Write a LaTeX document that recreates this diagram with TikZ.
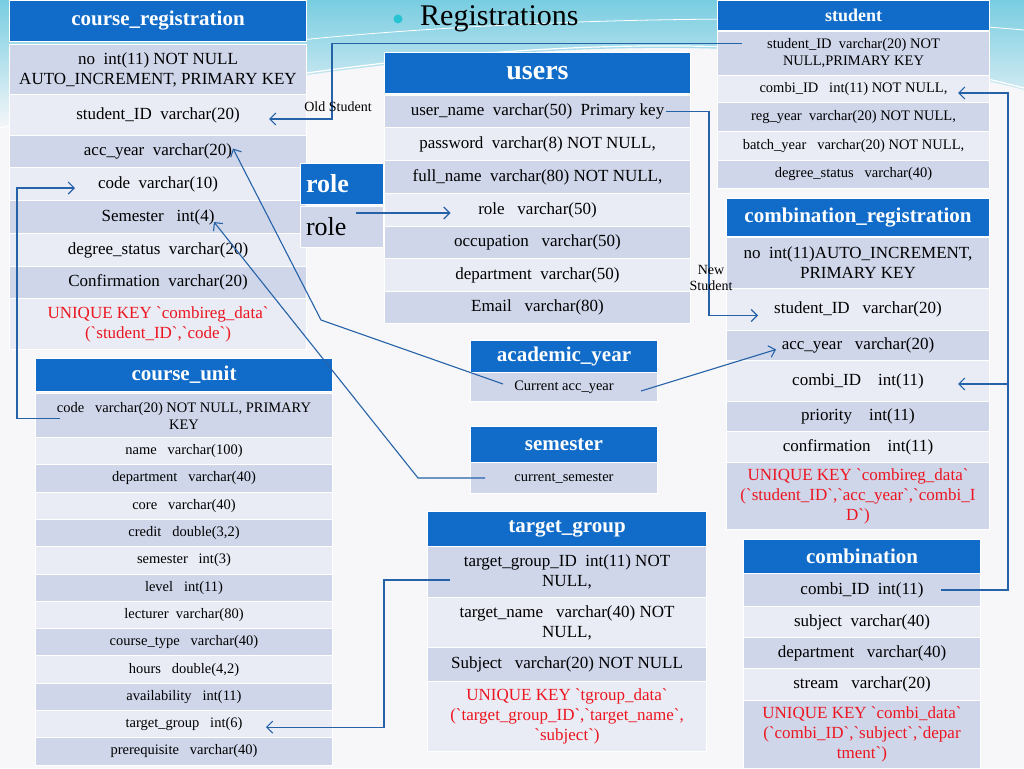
\documentclass[tikz,border=0pt]{standalone}
\usepackage{fontspec}
\setmainfont{Liberation Serif}
\usepackage{xcolor}
\usepackage{tikz}
\usetikzlibrary{arrows.meta}

\definecolor{hdrblue}{RGB}{16,108,200}
\definecolor{rowdark}{RGB}{207,214,234}
\definecolor{rowlight}{RGB}{233,236,245}
\definecolor{keyred}{RGB}{236,22,32}
\definecolor{linkblue}{RGB}{38,98,168}
\definecolor{swoosh}{RGB}{120,205,225}
\definecolor{bgray}{RGB}{247,247,249}
\definecolor{dotcyan}{RGB}{40,195,210}
\newcommand{\btick}{\textasciigrave}

\begin{document}
\begin{tikzpicture}[x=1pt,y=-1pt,
	>={Straight Barb[length=6pt,width=12pt]},
	tbl/.style={anchor=north west, inner sep=1pt, align=center, draw=white, line width=1pt},
	hdr/.style={tbl, fill=hdrblue, text=white, font=\bfseries\fontsize{21}{23}\selectfont},
	rowa/.style={tbl, fill=rowdark},
	rowb/.style={tbl, fill=rowlight},
	key/.style={text=keyred},
	big/.style={font=\fontsize{17}{20}\selectfont},
	small/.style={font=\fontsize{14.5}{17}\selectfont},
	link/.style={draw=linkblue, line width=1.1pt},
	lbl/.style={font=\fontsize{14}{16}\selectfont, align=center, inner sep=0pt}]

	\useasboundingbox (0,0) rectangle (1024,768);
	\fill[bgray] (0,0) rectangle (1024,768);
	\shade[top color=swoosh, bottom color=bgray] (0,0) -- (1024,0) -- (1024,90) .. controls (760,20) and (420,40) .. (0,130) -- cycle;
	\draw[white, line width=1.2pt] (0,128) .. controls (420,38) and (760,18) .. (1024,88);
	\draw[white, line width=0.8pt] (300,40) .. controls (500,20) and (800,10) .. (1024,30);

	% title
	\fill[dotcyan] (398,19) circle (4.5);
	\node[anchor=west, font=\fontsize{30}{32}\selectfont, inner sep=0pt] (title) at (420,19) {Registrations};

	% course_registration
	\node[hdr, minimum width=297pt, minimum height=41pt] (crhdr) at (9,0) {course\_registration};
	\node[rowa, big, minimum width=297pt, minimum height=50pt] (cr1) at (9,44) {no~~int(11) NOT NULL\\AUTO\_INCREMENT, PRIMARY KEY};
	\node[rowb, big, minimum width=297pt, minimum height=41pt] (cr2) at (9,94) {student\_ID~~varchar(20)};
	\node[rowa, big, minimum width=297pt, minimum height=32pt] (cr3) at (9,135) {acc\_year~~varchar(20)};
	\node[rowb, big, minimum width=297pt, minimum height=33pt] (cr4) at (9,167) {code~~varchar(10)};
	\node[rowa, big, minimum width=297pt, minimum height=33pt] (cr5) at (9,200) {Semester~~~int(4)};
	\node[rowb, big, minimum width=297pt, minimum height=33pt] (cr6) at (9,233) {degree\_status~~varchar(20)};
	\node[rowa, big, minimum width=297pt, minimum height=32pt] (cr7) at (9,266) {Confirmation~~varchar(20)};
	\node[rowb, big, key, minimum width=297pt, minimum height=51pt] (cr8) at (9,298) {UNIQUE KEY \btick combireg\_data\btick\\(\btick student\_ID\btick,\btick code\btick)};

	% users
	\node[hdr, font=\bfseries\fontsize{28}{30}\selectfont, minimum width=306pt, minimum height=41pt] (ushdr) at (384,52) {users};
	\node[rowa, big, minimum width=306pt, minimum height=32pt] (us1) at (384,95) {user\_name~~varchar(50)~~Primary key};
	\node[rowb, big, minimum width=306pt, minimum height=33pt] (us2) at (384,127) {password~~varchar(8) NOT NULL,};
	\node[rowa, big, minimum width=306pt, minimum height=33pt] (us3) at (384,160) {full\_name~~varchar(80) NOT NULL,};
	\node[rowb, big, minimum width=306pt, minimum height=33pt] (us4) at (384,193) {role~~~varchar(50)};
	\node[rowa, big, minimum width=306pt, minimum height=32pt] (us5) at (384,226) {occupation~~~varchar(50)};
	\node[rowb, big, minimum width=306pt, minimum height=33pt] (us6) at (384,258) {department~~varchar(50)};
	\node[rowa, big, minimum width=306pt, minimum height=32pt] (us7) at (384,291) {Email~~~varchar(80)};

	% role
	\node[hdr, font=\bfseries\fontsize{26}{28}\selectfont, align=left, text width=72pt, inner xsep=5.5pt, minimum height=41pt] (rlhdr) at (300,163) {role};
	\node[rowa, font=\fontsize{26}{28}\selectfont, align=left, text width=72pt, inner xsep=5.5pt, minimum height=41pt] (rl1) at (300,206) {role};

	% student
	\node[hdr, font=\bfseries\fontsize{18}{20}\selectfont, minimum width=272pt, minimum height=30pt] (sthdr) at (717,0) {student};
	\node[rowa, small, minimum width=272pt, minimum height=44pt] (st1) at (717,31) {student\_ID~~varchar(20) NOT\\NULL,PRIMARY KEY};
	\node[rowb, small, minimum width=272pt, minimum height=27pt] (st2) at (717,75) {combi\_ID~~~int(11) NOT NULL,};
	\node[rowa, small, minimum width=272pt, minimum height=29pt] (st3) at (717,102) {reg\_year~~varchar(20) NOT NULL,};
	\node[rowb, small, minimum width=272pt, minimum height=29pt] (st4) at (717,131) {batch\_year~~~varchar(20) NOT NULL,};
	\node[rowa, small, minimum width=272pt, minimum height=28pt] (st5) at (717,160) {degree\_status~~~varchar(40)};

	% combination_registration
	\node[hdr, minimum width=263pt, minimum height=38pt] (crghdr) at (726,198) {combination\_registration};
	\node[rowa, big, minimum width=263pt, minimum height=51pt] (crg1) at (726,237) {no~~int(11)AUTO\_INCREMENT,\\PRIMARY KEY};
	\node[rowb, big, minimum width=263pt, minimum height=42pt] (crg2) at (726,288) {student\_ID~~~varchar(20)};
	\node[rowa, big, minimum width=263pt, minimum height=30pt] (crg3) at (726,330) {acc\_year~~~varchar(20)};
	\node[rowb, big, minimum width=263pt, minimum height=41pt] (crg4) at (726,360) {combi\_ID~~~~int(11)};
	\node[rowa, big, minimum width=263pt, minimum height=30pt] (crg5) at (726,401) {priority~~~~int(11)};
	\node[rowb, big, minimum width=263pt, minimum height=31pt] (crg6) at (726,431) {confirmation~~~~int(11)};
	\node[rowa, big, key, minimum width=263pt, minimum height=67pt] (crg7) at (726,462) {UNIQUE KEY \btick combireg\_data\btick\\(\btick student\_ID\btick,\btick acc\_year\btick,\btick combi\_I\\D\btick)};

	% academic_year and semester
	\node[hdr, minimum width=187pt, minimum height=32pt] (ayhdr) at (470,340) {academic\_year};
	\node[rowa, small, minimum width=187pt, minimum height=29pt] (ay1) at (470,372) {Current acc\_year};
	\node[hdr, minimum width=187pt, minimum height=36pt] (smhdr) at (470,426) {semester};
	\node[rowa, small, minimum width=187pt, minimum height=31pt] (sm1) at (470,462) {current\_semester};

	% target_group
	\node[hdr, minimum width=279pt, minimum height=35pt] (tghdr) at (427,511) {target\_group};
	\node[rowa, big, minimum width=279pt, minimum height=51pt] (tg1) at (427,546) {target\_group\_ID~~int(11) NOT\\NULL,};
	\node[rowb, big, minimum width=279pt, minimum height=50pt] (tg2) at (427,597) {target\_name~~~varchar(40) NOT\\NULL,};
	\node[rowa, big, minimum width=279pt, minimum height=34pt] (tg3) at (427,647) {Subject~~~varchar(20) NOT NULL};
	\node[rowb, big, key, minimum width=279pt, minimum height=70pt] (tg4) at (427,681) {UNIQUE KEY \btick tgroup\_data\btick\\(\btick target\_group\_ID\btick,\btick target\_name\btick,\\\btick subject\btick)};

	% combination
	\node[hdr, minimum width=237pt, minimum height=34pt] (cbhdr) at (743,539) {combination};
	\node[rowa, big, minimum width=237pt, minimum height=33pt] (cb1) at (743,573) {combi\_ID~~int(11)};
	\node[rowb, big, minimum width=237pt, minimum height=31pt] (cb2) at (743,606) {subject~~varchar(40)};
	\node[rowa, big, minimum width=237pt, minimum height=31pt] (cb3) at (743,637) {department~~~varchar(40)};
	\node[rowb, big, minimum width=237pt, minimum height=32pt] (cb4) at (743,668) {stream~~~varchar(20)};
	\node[rowa, big, key, minimum width=237pt, minimum height=68pt] (cb5) at (743,700) {UNIQUE KEY \btick combi\_data\btick\\(\btick combi\_ID\btick,\btick subject\btick,\btick depar\\tment\btick)};

	% course_unit
	\node[hdr, minimum width=297pt, minimum height=33pt] (cuhdr) at (35,358) {course\_unit};
	\node[rowa, small, minimum width=297pt, minimum height=44pt] (cucode) at (35,393) {code~~~varchar(20) NOT NULL, PRIMARY\\KEY};
	\foreach \t [count=\i] in {name~~~varchar(100), department~~~varchar(40), core~~~varchar(40), {credit~~~double(3,2)}, semester~~~int(3), level~~~int(11), lecturer~~varchar(80), course\_type~~~varchar(40), {hours~~~double(4,2)}, availability~~~int(11), target\_group~~~int(6), prerequisite~~~varchar(40)}{
		\ifodd\i \colorlet{cufill}{rowlight}\else\colorlet{cufill}{rowdark}\fi
		\node[tbl, fill=cufill, small, minimum width=297pt, minimum height=27.3pt] (cu\i) at (35,{437+27.3*(\i-1)}) {\t};
	}

	% links
	\draw[link,->] ([xshift=25pt,yshift=10pt]st1.west) -- ++(-410pt,0) |- ([xshift=-38pt,yshift=-4pt]cr2.east);
	\node[lbl] (oldst) at (338,107) {Old Student};
	\draw[link,->] ([xshift=-25pt]us1.east) -- ++(43pt,0) |- ([xshift=32pt,yshift=-6pt]crg2.west);
	\node[lbl] (newst) at (711,278) {New\\Student};
	\draw[link,->] ([xshift=-40pt]cb1.east) -- ++(67pt,0) |- ([xshift=-32pt,yshift=-4pt]st2.east);
	\draw[link,->] ([xshift=18pt,yshift=-3pt]crg4.east) -- ([xshift=-32pt,yshift=-3pt]crg4.east);
	\draw[link,->] ([xshift=-17pt,yshift=-4pt]ay1.east) -- ([xshift=50pt,yshift=-4pt]crg3.west);
	\draw[link,->] ([xshift=33pt,yshift=3pt]ay1.west) -- ++(-182pt,64pt) -- ([xshift=-74pt,yshift=3pt]cr3.east);
	\draw[link,->] ([xshift=15pt]sm1.west) -- ++(-67pt,0) -- ([xshift=-93pt,yshift=-5pt]cr5.east);
	\draw[link,<-] ([xshift=-87pt,yshift=-3pt]us4.center) -- ++(-95pt,0);
	\draw[link,->] ([xshift=23pt,yshift=-8pt]tg1.west) -- ++(-66pt,0) |- ([xshift=-67pt,yshift=-3pt]cu11.east);
	\draw[link,->] ([xshift=25pt,yshift=-3pt]cucode.west) -- ++(-43pt,0) |- ([xshift=66pt,yshift=-4pt]cr4.west);
\end{tikzpicture}
\end{document}
